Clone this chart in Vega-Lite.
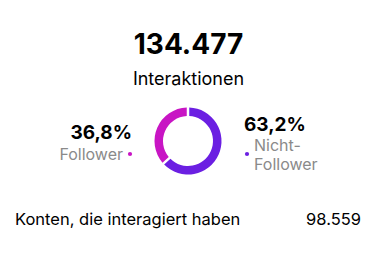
{
  "$schema": "https://vega.github.io/schema/vega-lite/v6.json",
  "width": 375,
  "height": 267,
  "autosize": {"type": "fit", "contains": "padding"},
  "padding": {"top": 14, "left": 0, "right": 0, "bottom": 0},
  "background": "white",
  "config": {"view": {"stroke": null}, "font": "Inter"},
  "datasets": {
    "segments": [
      {"segment": "Follower", "share": 36.8, "label": "36,8%", "caption": "Follower"},
      {"segment": "Nicht-Follower", "share": 63.2, "label": "63,2%", "caption": "Nicht-\nFollower"}
    ],
    "summary": [
      {"metric": "Interaktionen", "total": "134.477", "accounts_label": "Konten, die interagiert haben", "accounts": "98.559"}
    ]
  },
  "layer": [
    {
      "data": {"name": "segments"},
      "mark": {"type": "arc", "innerRadius": 25, "outerRadius": 33.5, "padAngle": 0.06},
      "encoding": {
        "theta": {"field": "share", "type": "quantitative", "stack": true},
        "order": {"field": "share", "sort": "descending"},
        "color": {"field": "segment", "type": "nominal", "scale": {"domain": ["Follower", "Nicht-Follower"], "range": ["#C815C4", "#6B1FE2"]}, "legend": null}
      }
    },
    {
      "data": {"name": "segments"},
      "transform": [{"filter": "datum.segment === 'Follower'"}],
      "mark": {"type": "text", "align": "right", "baseline": "alphabetic", "fontSize": 19, "fontWeight": "bold", "color": "#000000", "y": 124},
      "encoding": {
        "x": {"field": "segment", "type": "nominal", "scale": {"type": "point", "domain": ["Follower", "Nicht-Follower"], "range": [131, 243], "padding": 0}, "axis": null},
        "text": {"field": "label"}
      }
    },
    {
      "data": {"name": "segments"},
      "transform": [{"filter": "datum.segment === 'Nicht-Follower'"}],
      "mark": {"type": "text", "align": "left", "baseline": "alphabetic", "fontSize": 19, "fontWeight": "bold", "color": "#000000", "y": 116},
      "encoding": {
        "x": {"field": "segment", "type": "nominal", "axis": null},
        "text": {"field": "label"}
      }
    },
    {
      "data": {"name": "segments"},
      "transform": [{"filter": "datum.segment === 'Follower'"}],
      "mark": {"type": "text", "align": "right", "baseline": "alphabetic", "fontSize": 16, "color": "#8A8A8A", "dx": -9, "y": 145},
      "encoding": {
        "x": {"field": "segment", "type": "nominal", "axis": null},
        "text": {"field": "caption"}
      }
    },
    {
      "data": {"name": "segments"},
      "transform": [{"filter": "datum.segment === 'Nicht-Follower'"}],
      "mark": {"type": "text", "align": "left", "baseline": "alphabetic", "fontSize": 16, "color": "#8A8A8A", "dx": 10, "y": 136, "lineBreak": "\n", "lineHeight": 19},
      "encoding": {
        "x": {"field": "segment", "type": "nominal", "axis": null},
        "text": {"field": "caption"}
      }
    },
    {
      "data": {"name": "segments"},
      "transform": [{"filter": "datum.segment === 'Follower'"}],
      "mark": {"type": "point", "filled": true, "size": 18, "opacity": 1, "xOffset": -2, "y": 139},
      "encoding": {
        "x": {"field": "segment", "type": "nominal", "axis": null},
        "color": {"field": "segment", "type": "nominal", "legend": null}
      }
    },
    {
      "data": {"name": "segments"},
      "transform": [{"filter": "datum.segment === 'Nicht-Follower'"}],
      "mark": {"type": "point", "filled": true, "size": 18, "opacity": 1, "xOffset": 3, "y": 139},
      "encoding": {
        "x": {"field": "segment", "type": "nominal", "axis": null},
        "color": {"field": "segment", "type": "nominal", "legend": null}
      }
    },
    {
      "data": {"name": "summary"},
      "mark": {"type": "text", "align": "center", "baseline": "alphabetic", "fontSize": 28, "fontWeight": "bold", "color": "#000000", "x": 187.5, "y": 39},
      "encoding": {"text": {"field": "total"}}
    },
    {
      "data": {"name": "summary"},
      "mark": {"type": "text", "align": "center", "baseline": "alphabetic", "fontSize": 18, "color": "#000000", "x": 187.5, "y": 70},
      "encoding": {"text": {"field": "metric"}}
    },
    {
      "data": {"name": "summary"},
      "mark": {"type": "text", "align": "left", "baseline": "alphabetic", "fontSize": 16.5, "color": "#000000", "x": 14, "y": 210},
      "encoding": {"text": {"field": "accounts_label"}}
    },
    {
      "data": {"name": "summary"},
      "mark": {"type": "text", "align": "right", "baseline": "alphabetic", "fontSize": 16.5, "color": "#000000", "x": 360, "y": 210},
      "encoding": {"text": {"field": "accounts"}}
    },
    {
      "data": {"name": "summary"},
      "mark": {"type": "rule", "color": "#EEEEEE", "strokeWidth": 1, "x": 14, "x2": 360, "y": 239},
      "encoding": {}
    }
  ]
}
